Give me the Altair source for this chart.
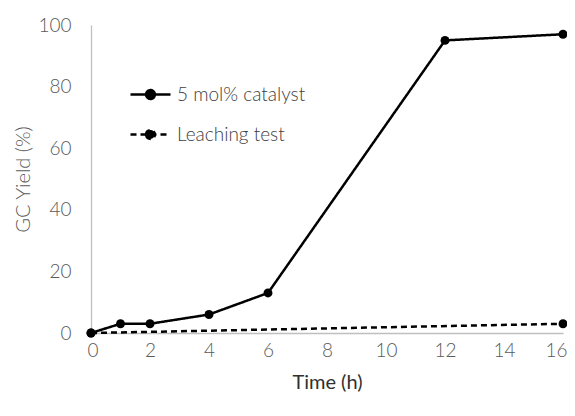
import altair as alt
import pandas as pd

cat_time = [0, 1, 2, 4, 6, 12, 16]
cat_yield = [0, 3, 3, 6, 13, 95, 97]
leach_time = [0, 16]
leach_yield = [0, 3]
series_names = ["5 mol% catalyst", "Leaching test"]

df = pd.DataFrame(
    {"time": cat_time + leach_time,
     "yield": cat_yield + leach_yield,
     "series": [series_names[0]] * len(cat_time) + [series_names[1]] * len(leach_time)}
)

FONT = "Lato"
sym = "M-1,0H1M-0.22,0A0.22,0.22 0 1,1 0.22,0A0.22,0.22 0 1,1 -0.22,0Z"

x = alt.X("time:Q", title="Time (h)",
          scale=alt.Scale(domain=[0, 16], nice=False),
          axis=alt.Axis(values=list(range(0, 17, 2)), labelFlush=True, labelFlushOffset=4,
                        titleFontWeight="normal", titleColor="#303030",
                        titleFontSize=20, titlePadding=12))
y = alt.Y("yield:Q", title="GC Yield (%)",
          scale=alt.Scale(domain=[0, 100], nice=False),
          axis=alt.Axis(values=list(range(0, 101, 20)), labelPadding=20,
                        titleColor="#595959", titleFontWeight=300, titlePadding=4,
                        titleFontSize=20))

dash = alt.StrokeDash("series:N",
                      scale=alt.Scale(domain=series_names, range=[[1, 0], [6, 4]]),
                      legend=alt.Legend(title=None, orient="none", legendX=38, legendY=48,
                                        symbolType=sym, symbolSize=1600,
                                        symbolFillColor="black", symbolStrokeColor="black",
                                        symbolStrokeWidth=2.5, labelFontSize=19,
                                        labelFont=FONT, labelFontWeight=300,
                                        labelColor="#404040", labelOffset=5,
                                        rowPadding=8, padding=0))

lines = alt.Chart(df).mark_line(color="black", strokeWidth=2.5).encode(
    x=x, y=y, strokeDash=dash, detail="series:N")
points = alt.Chart(df).mark_point(filled=True, color="black", size=80, opacity=1).encode(
    x=x, y=y)

chart = (lines + points).properties(
    width=472, height=308,
    autosize=alt.AutoSizeParams(type="none"),
    padding={"left": 83, "top": 17, "right": 4, "bottom": 75},
).configure_view(stroke=None).configure_axis(
    grid=False, ticks=False, domainColor="#bfbfbf", domainWidth=1.3,
    labelFontSize=19, labelColor="#595959", labelPadding=8,
    labelFont=FONT, labelFontWeight=300,
    titleFontSize=20, titleColor="#303030", titleFont=FONT,
    titleFontWeight="normal", titlePadding=8,
)

chart.save("out.html", embed_options={"renderer": "svg", "actions": False})
